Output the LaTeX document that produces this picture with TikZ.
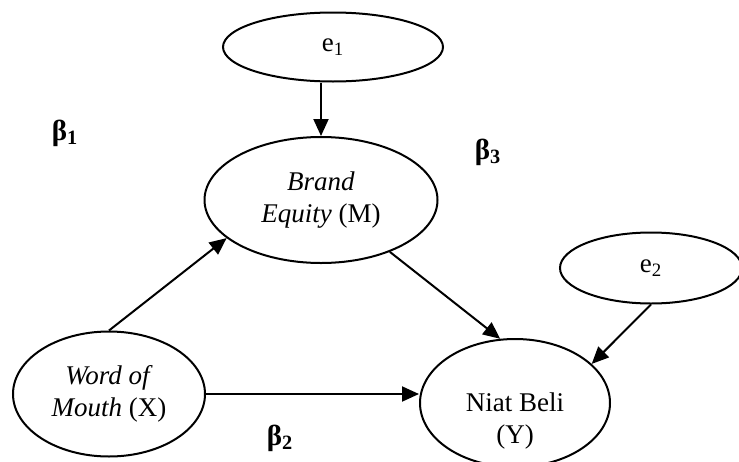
\documentclass[tikz,border=0pt]{standalone}
\usepackage{fontspec}
\setmainfont{Liberation Serif}
\usetikzlibrary{shapes.geometric,arrows.meta}

\begin{document}
\begin{tikzpicture}
		[x=0.5pt,y=-0.5pt,line width=1pt,
		 var/.style={draw,ellipse,inner sep=0pt,align=center,
		   font=\fontsize{13.5}{16}\selectfont},
		 causal/.style={-{Triangle[length=8.5pt,width=7.5pt]}},
		 coef/.style={font=\fontsize{14.5}{16}\selectfont\bfseries}]
		\useasboundingbox (0,0) rectangle (739,461);
		\node[var,minimum width=110pt,minimum height=34.5pt] (e_1) at (333,47) {e\textsubscript{1}};
		\node[var,minimum width=116.5pt,minimum height=63pt] (brand) at (321,200) {\textit{Brand}\\\textit{Equity} (M)};
		\node[var,minimum width=96pt,minimum height=62.5pt] (wom) at (109,394) {\textit{Word of}\\\textit{Mouth} (X)};
		\node[var,minimum width=95pt,minimum height=64pt] (niat) at (515,403)
		  {\raisebox{-9pt}[\height][\depth]{\begin{tabular}{@{}c@{}}Niat Beli\\(Y)\end{tabular}}};
		\node[var,minimum width=91pt,minimum height=35.5pt] (e_2) at (651,268) {e\textsubscript{2}};
		\node[coef] (b_1) at (65,133) {β\textsubscript{1}};
		\node[coef] (b_2) at (280,438) {β\textsubscript{2}};
		\node[coef] (b_3) at (488,152) {β\textsubscript{3}};
		\path[causal]
		(e_1.south -| brand.north) 	edge (brand.north)
		(wom.north) 	edge (brand.202)
		(wom.east) 	edge (wom.east -| niat.west)
		(brand.323) 	edge (niat.103)
		(e_2.south) 	edge (niat.27)
		;
		\end{tikzpicture}
\end{document}
